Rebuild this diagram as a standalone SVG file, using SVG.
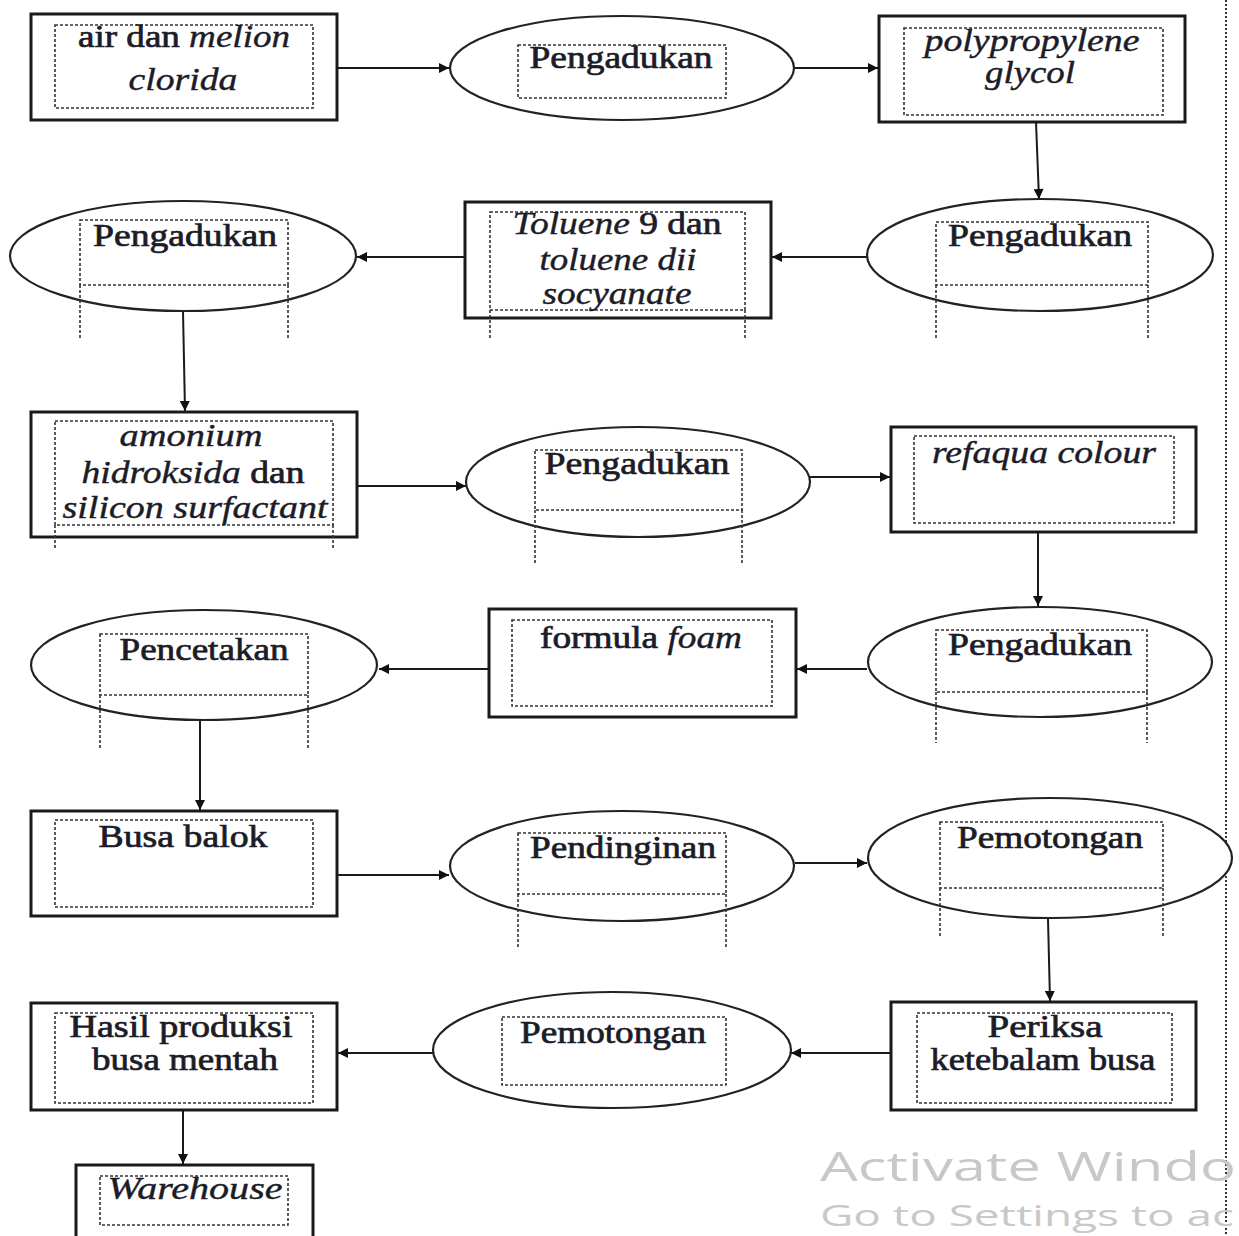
<svg xmlns="http://www.w3.org/2000/svg" width="1239" height="1236" viewBox="0 0 1239 1236">
<style>
.box{fill:#fff;stroke:#1a1a1a;stroke-width:3}
.ell{fill:#fff;stroke:#222;stroke-width:2.2}
.in{fill:none;stroke:#333;stroke-width:1.6;stroke-dasharray:3 2}
.ext{fill:none;stroke:#333;stroke-width:1.6;stroke-dasharray:3 2}
.t{font-family:"Liberation Serif","Times New Roman",serif;font-size:31px;fill:#1c1c28;stroke:#1c1c28;stroke-width:0.7;text-anchor:middle}
.i{font-style:italic;stroke-width:0.4}
.con{fill:none;stroke:#1a1a1a;stroke-width:2}
.wm{font-family:"Open Sans","Noto Sans",sans-serif;fill:#c8c8c8}
</style>
<defs>
<marker id="ah" viewBox="0 0 10 10" refX="10" refY="5" markerWidth="11" markerHeight="10" markerUnits="userSpaceOnUse" orient="auto">
<path d="M0,0 L10,5 L0,10 z" fill="#111"/>
</marker>
</defs>

<line x1="1226" y1="0" x2="1226" y2="1236" stroke="#333" stroke-width="2" stroke-dasharray="2 2"/>

<g id="connectors">
<line class="con" x1="337" y1="68" x2="449" y2="68" marker-end="url(#ah)"/>
<line class="con" x1="795" y1="68" x2="878" y2="68" marker-end="url(#ah)"/>
<line class="con" x1="1036" y1="122" x2="1039" y2="199" marker-end="url(#ah)"/>
<line class="con" x1="867" y1="257" x2="772" y2="257" marker-end="url(#ah)"/>
<line class="con" x1="465" y1="257" x2="357" y2="257" marker-end="url(#ah)"/>
<line class="con" x1="183" y1="311" x2="185" y2="411" marker-end="url(#ah)"/>
<line class="con" x1="357" y1="486" x2="466" y2="486" marker-end="url(#ah)"/>
<line class="con" x1="810" y1="477" x2="890" y2="477" marker-end="url(#ah)"/>
<line class="con" x1="1038" y1="533" x2="1038" y2="606" marker-end="url(#ah)"/>
<line class="con" x1="867" y1="669" x2="797" y2="669" marker-end="url(#ah)"/>
<line class="con" x1="489" y1="669" x2="379" y2="669" marker-end="url(#ah)"/>
<line class="con" x1="200" y1="720" x2="200" y2="810" marker-end="url(#ah)"/>
<line class="con" x1="337" y1="875" x2="449" y2="875" marker-end="url(#ah)"/>
<line class="con" x1="795" y1="863" x2="867" y2="863" marker-end="url(#ah)"/>
<line class="con" x1="1048" y1="919" x2="1050" y2="1001" marker-end="url(#ah)"/>
<line class="con" x1="891" y1="1053" x2="791" y2="1053" marker-end="url(#ah)"/>
<line class="con" x1="433" y1="1053" x2="338" y2="1053" marker-end="url(#ah)"/>
<line class="con" x1="183" y1="1111" x2="183" y2="1164" marker-end="url(#ah)"/>
</g>

<g id="n1">
<rect class="box" x="31" y="14" width="306" height="106"/>
<rect class="in" x="55" y="25" width="258" height="83"/>
<text class="t" x="184" y="47" textLength="212" lengthAdjust="spacingAndGlyphs">air dan <tspan class="i">melion</tspan></text>
<text class="t i" x="183" y="90" textLength="109" lengthAdjust="spacingAndGlyphs">clorida</text>
</g>

<g id="n2">
<ellipse class="ell" cx="622" cy="68" rx="172" ry="52"/>
<rect class="in" x="518" y="45" width="208" height="53"/>
<text class="t" x="621" y="68" textLength="183" lengthAdjust="spacingAndGlyphs">Pengadukan</text>
</g>

<g id="n3">
<rect class="box" x="879" y="16" width="306" height="106"/>
<rect class="in" x="904" y="28" width="259" height="87"/>
<text class="t i" x="1032" y="51" textLength="215" lengthAdjust="spacingAndGlyphs">polypropylene</text>
<text class="t i" x="1030" y="83" textLength="90" lengthAdjust="spacingAndGlyphs">glycol</text>
</g>

<g id="n4">
<ellipse class="ell" cx="1040" cy="255" rx="173" ry="56"/>
<rect class="in" x="936" y="222" width="212" height="63"/>
<path class="ext" d="M936,285 V338 M1148,285 V338"/>
<text class="t" x="1040" y="246" textLength="184" lengthAdjust="spacingAndGlyphs">Pengadukan</text>
</g>

<g id="n5">
<rect class="box" x="465" y="202" width="306" height="116"/>
<rect class="in" x="490" y="212" width="255" height="98"/>
<path class="ext" d="M490,310 V338 M745,310 V338"/>
<text class="t" x="617" y="234" textLength="209" lengthAdjust="spacingAndGlyphs"><tspan class="i">Toluene</tspan> 9 dan</text>
<text class="t i" x="618" y="270" textLength="157" lengthAdjust="spacingAndGlyphs">toluene dii</text>
<text class="t i" x="617" y="304" textLength="149" lengthAdjust="spacingAndGlyphs">socyanate</text>
</g>

<g id="n6">
<ellipse class="ell" cx="183" cy="256" rx="173" ry="55"/>
<rect class="in" x="80" y="220" width="208" height="65"/>
<path class="ext" d="M80,285 V338 M288,285 V338"/>
<text class="t" x="185" y="246" textLength="184" lengthAdjust="spacingAndGlyphs">Pengadukan</text>
</g>

<g id="n7">
<rect class="box" x="31" y="412" width="326" height="125"/>
<rect class="in" x="55" y="421" width="278" height="104"/>
<path class="ext" d="M55,525 V550 M333,525 V550"/>
<text class="t i" x="191" y="446" textLength="143" lengthAdjust="spacingAndGlyphs">amonium</text>
<text class="t" x="193" y="483" textLength="223" lengthAdjust="spacingAndGlyphs"><tspan class="i">hidroksida</tspan> dan</text>
<text class="t i" x="195" y="518" textLength="265" lengthAdjust="spacingAndGlyphs">silicon surfactant</text>
</g>

<g id="n8">
<ellipse class="ell" cx="638" cy="482" rx="172" ry="55"/>
<rect class="in" x="535" y="450" width="207" height="60"/>
<path class="ext" d="M535,510 V563 M742,510 V563"/>
<text class="t" x="637" y="474" textLength="185" lengthAdjust="spacingAndGlyphs">Pengadukan</text>
</g>

<g id="n9">
<rect class="box" x="891" y="427" width="305" height="105"/>
<rect class="in" x="914" y="436" width="260" height="87"/>
<text class="t i" x="1044" y="463" textLength="224" lengthAdjust="spacingAndGlyphs">refaqua colour</text>
</g>

<g id="n10">
<ellipse class="ell" cx="1040" cy="662" rx="172" ry="55"/>
<rect class="in" x="936" y="630" width="211" height="62"/>
<path class="ext" d="M936,692 V743 M1147,692 V743"/>
<text class="t" x="1040" y="655" textLength="184" lengthAdjust="spacingAndGlyphs">Pengadukan</text>
</g>

<g id="n11">
<rect class="box" x="489" y="609" width="307" height="108"/>
<rect class="in" x="512" y="620" width="260" height="86"/>
<text class="t" x="641" y="648" textLength="202" lengthAdjust="spacingAndGlyphs">formula <tspan class="i">foam</tspan></text>
</g>

<g id="n12">
<ellipse class="ell" cx="204" cy="665" rx="173" ry="55"/>
<rect class="in" x="100" y="634" width="208" height="61"/>
<path class="ext" d="M100,695 V748 M308,695 V748"/>
<text class="t" x="204" y="660" textLength="169" lengthAdjust="spacingAndGlyphs">Pencetakan</text>
</g>

<g id="n13">
<rect class="box" x="31" y="811" width="306" height="105"/>
<rect class="in" x="55" y="820" width="258" height="87"/>
<text class="t" x="183" y="847" textLength="169" lengthAdjust="spacingAndGlyphs">Busa balok</text>
</g>

<g id="n14">
<ellipse class="ell" cx="622" cy="866" rx="172" ry="55"/>
<rect class="in" x="518" y="833" width="208" height="61"/>
<path class="ext" d="M518,894 V947 M726,894 V947"/>
<text class="t" x="623" y="858" textLength="186" lengthAdjust="spacingAndGlyphs">Pendinginan</text>
</g>

<g id="n15">
<ellipse class="ell" cx="1050" cy="858" rx="182" ry="60"/>
<rect class="in" x="940" y="822" width="223" height="66"/>
<path class="ext" d="M940,888 V938 M1163,888 V938"/>
<text class="t" x="1050" y="848" textLength="186" lengthAdjust="spacingAndGlyphs">Pemotongan</text>
</g>

<g id="n16">
<rect class="box" x="891" y="1002" width="305" height="108"/>
<rect class="in" x="917" y="1013" width="255" height="90"/>
<text class="t" x="1045" y="1037" textLength="115" lengthAdjust="spacingAndGlyphs">Periksa</text>
<text class="t" x="1043" y="1070" textLength="225" lengthAdjust="spacingAndGlyphs">ketebalam busa</text>
</g>

<g id="n17">
<ellipse class="ell" cx="612" cy="1050" rx="179" ry="58"/>
<rect class="in" x="502" y="1017" width="224" height="68"/>
<text class="t" x="613" y="1043" textLength="186" lengthAdjust="spacingAndGlyphs">Pemotongan</text>
</g>

<g id="n18">
<rect class="box" x="31" y="1003" width="306" height="107"/>
<rect class="in" x="55" y="1013" width="258" height="90"/>
<text class="t" x="181" y="1037" textLength="223" lengthAdjust="spacingAndGlyphs">Hasil produksi</text>
<text class="t" x="185" y="1070" textLength="186" lengthAdjust="spacingAndGlyphs">busa mentah</text>
</g>

<g id="n19">
<rect class="box" x="76" y="1165" width="237" height="80"/>
<rect class="in" x="100" y="1176" width="188" height="49"/>
<text class="t i" x="195" y="1199" textLength="175" lengthAdjust="spacingAndGlyphs">Warehouse</text>
</g>

<text class="wm" x="820" y="1181" font-size="40" textLength="416" lengthAdjust="spacingAndGlyphs">Activate Windo</text>
<text class="wm" x="820" y="1226" font-size="30" textLength="414" lengthAdjust="spacingAndGlyphs">Go to Settings to ac</text>
</svg>
